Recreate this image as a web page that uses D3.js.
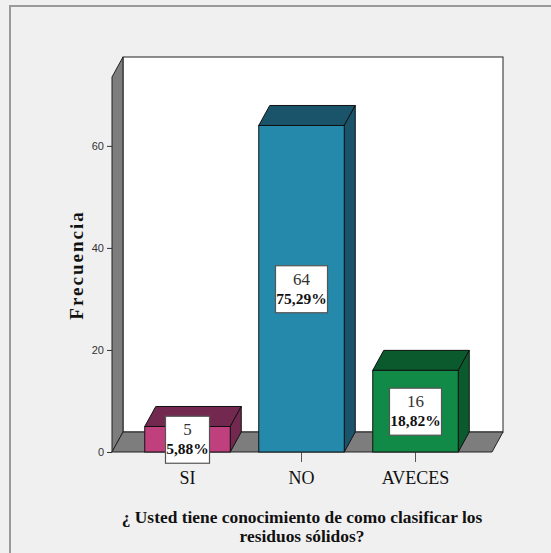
<!DOCTYPE html>
<html>
<head>
<meta charset="utf-8">
<script src="https://cdn.jsdelivr.net/npm/d3@7"></script>
<style>
  html, body { margin: 0; padding: 0; background: #f0f0f0; }
  svg { display: block; }
</style>
</head>
<body>
<svg id="chart" width="551" height="553"></svg>
<script>
// ---- data ----
const categories = ["SI", "NO", "AVECES"];
const counts = [5, 64, 16];
const percents = ["5,88%", "75,29%", "18,82%"];
const yTicks = [0, 20, 40, 60];
const frontColors = ["#c0407e", "#2489ab", "#118a47"];
const darkColors = ["#73294f", "#1a546b", "#0b5a2e"];
const yTitle = "Frecuencia";
const xTitleLines = ["¿ Usted tiene conocimiento de como clasificar los", "residuos sólidos?"];

// ---- layout ----
const svg = d3.select("#chart");
const W = 551, H = 553;
const plotLeft = 112, plotRight = 492, plotBottom = 452, plotTop = 77;
const depth = { dx: 11, dy: 20 };
const serif = "'Liberation Serif', 'Times New Roman', 'DejaVu Serif', serif";

svg.append("rect").attr("width", W).attr("height", H).attr("fill", "#f0f0f0");
svg.append("rect").attr("x", 10).attr("y", 6).attr("width", W + 10).attr("height", H + 10)
  .attr("fill", "#f0f0f0").attr("stroke", "#9a9a9a").attr("stroke-width", 2);

const y = d3.scaleLinear().domain([0, 73.5]).range([plotBottom, plotTop]);
const x = d3.scaleBand().domain(categories).range([130.5, 472.5]).paddingInner(0.25).paddingOuter(0.125);

// back wall
svg.append("rect")
  .attr("x", plotLeft + depth.dx).attr("y", plotTop - depth.dy)
  .attr("width", plotRight - plotLeft).attr("height", plotBottom - plotTop)
  .attr("fill", "#ffffff").attr("stroke", "#222").attr("stroke-width", 1);

// left side wall
const pts = a => a.map(p => p.join(",")).join(" ");
svg.append("polygon")
  .attr("points", pts([[plotLeft, plotTop], [plotLeft + depth.dx, plotTop - depth.dy],
    [plotLeft + depth.dx, plotBottom - depth.dy], [plotLeft, plotBottom]]))
  .attr("fill", "#7d7d7d").attr("stroke", "#222").attr("stroke-width", 1);

// floor
svg.append("polygon")
  .attr("points", pts([[plotLeft, plotBottom], [plotLeft + depth.dx, plotBottom - depth.dy],
    [plotRight + depth.dx, plotBottom - depth.dy], [plotRight, plotBottom]]))
  .attr("fill", "#7d7d7d").attr("stroke", "#222").attr("stroke-width", 1);

// y axis ticks
const yAxis = d3.axisLeft(y).tickValues(yTicks).tickSize(5).tickPadding(3);
const gy = svg.append("g").attr("transform", `translate(${plotLeft},0)`).call(yAxis);
gy.select(".domain").remove();
gy.selectAll(".tick line").attr("stroke", "#333");
gy.selectAll(".tick text")
  .attr("font-family", "'Liberation Sans Narrow', 'Arial Narrow', 'Liberation Sans', sans-serif")
  .attr("font-size", 11).attr("fill", "#333");

// x axis ticks (below floor)
const gx = svg.append("g").attr("transform", `translate(0,${plotBottom})`)
  .call(d3.axisBottom(x).tickSize(10).tickPadding(9));
gx.select(".domain").remove();
gx.selectAll(".tick line").attr("stroke", "#555");
gx.selectAll(".tick text")
  .attr("font-family", serif)
  .attr("font-size", 18).attr("fill", "#111");

// bars
const data = categories.map((c, i) => ({ c, v: counts[i], p: percents[i], f: frontColors[i], d: darkColors[i] }));
const bars = svg.append("g").selectAll("g").data(data).join("g");
bars.each(function (d) {
  const g = d3.select(this);
  const x0 = x(d.c), x1 = x(d.c) + x.bandwidth();
  const yt = y(d.v), yb = y(0);
  g.append("polygon")
    .attr("points", pts([[x0, yt], [x0 + depth.dx, yt - depth.dy], [x1 + depth.dx, yt - depth.dy], [x1, yt]]))
    .attr("fill", d.d).attr("stroke", "#111").attr("stroke-width", 1);
  g.append("polygon")
    .attr("points", pts([[x1, yt], [x1 + depth.dx, yt - depth.dy], [x1 + depth.dx, yb - depth.dy], [x1, yb]]))
    .attr("fill", d.d).attr("stroke", "#111").attr("stroke-width", 1);
  g.append("rect").attr("x", x0).attr("y", yt).attr("width", x1 - x0).attr("height", yb - yt)
    .attr("fill", d.f).attr("stroke", "#111").attr("stroke-width", 1);
});

// value labels
const labels = svg.append("g").selectAll("g").data(data).join("g")
  .attr("transform", d => `translate(${x(d.c) + x.bandwidth() / 2},${(y(d.v) + y(0)) / 2})`);
labels.append("rect")
  .attr("x", d => d.p.length > 5 ? -26 : -22).attr("y", -23)
  .attr("width", d => d.p.length > 5 ? 52 : 44).attr("height", 47)
  .attr("fill", "#fff").attr("stroke", "#555").attr("stroke-width", 1.2);
labels.append("text").attr("y", -4).attr("text-anchor", "middle")
  .attr("font-family", serif).attr("font-size", 17)
  .attr("fill", "#333").text(d => d.v);
labels.append("text").attr("y", 15).attr("text-anchor", "middle")
  .attr("font-family", serif).attr("font-size", 15.5)
  .attr("font-weight", "bold").attr("fill", "#111").text(d => d.p);

// y title
svg.append("text")
  .attr("transform", `translate(83,265) rotate(-90)`)
  .attr("text-anchor", "middle")
  .attr("font-family", serif)
  .attr("font-size", 19).attr("font-weight", "bold").attr("letter-spacing", 2)
  .attr("fill", "#111").text(yTitle);

// x title
const xt = svg.append("text").attr("text-anchor", "middle")
  .attr("font-family", serif)
  .attr("font-size", 17.4).attr("font-weight", "bold").attr("fill", "#111");
xTitleLines.forEach((line, i) => {
  xt.append("tspan").attr("x", 302).attr("y", 523 + i * 19).text(line);
});
</script>
</body>
</html>
